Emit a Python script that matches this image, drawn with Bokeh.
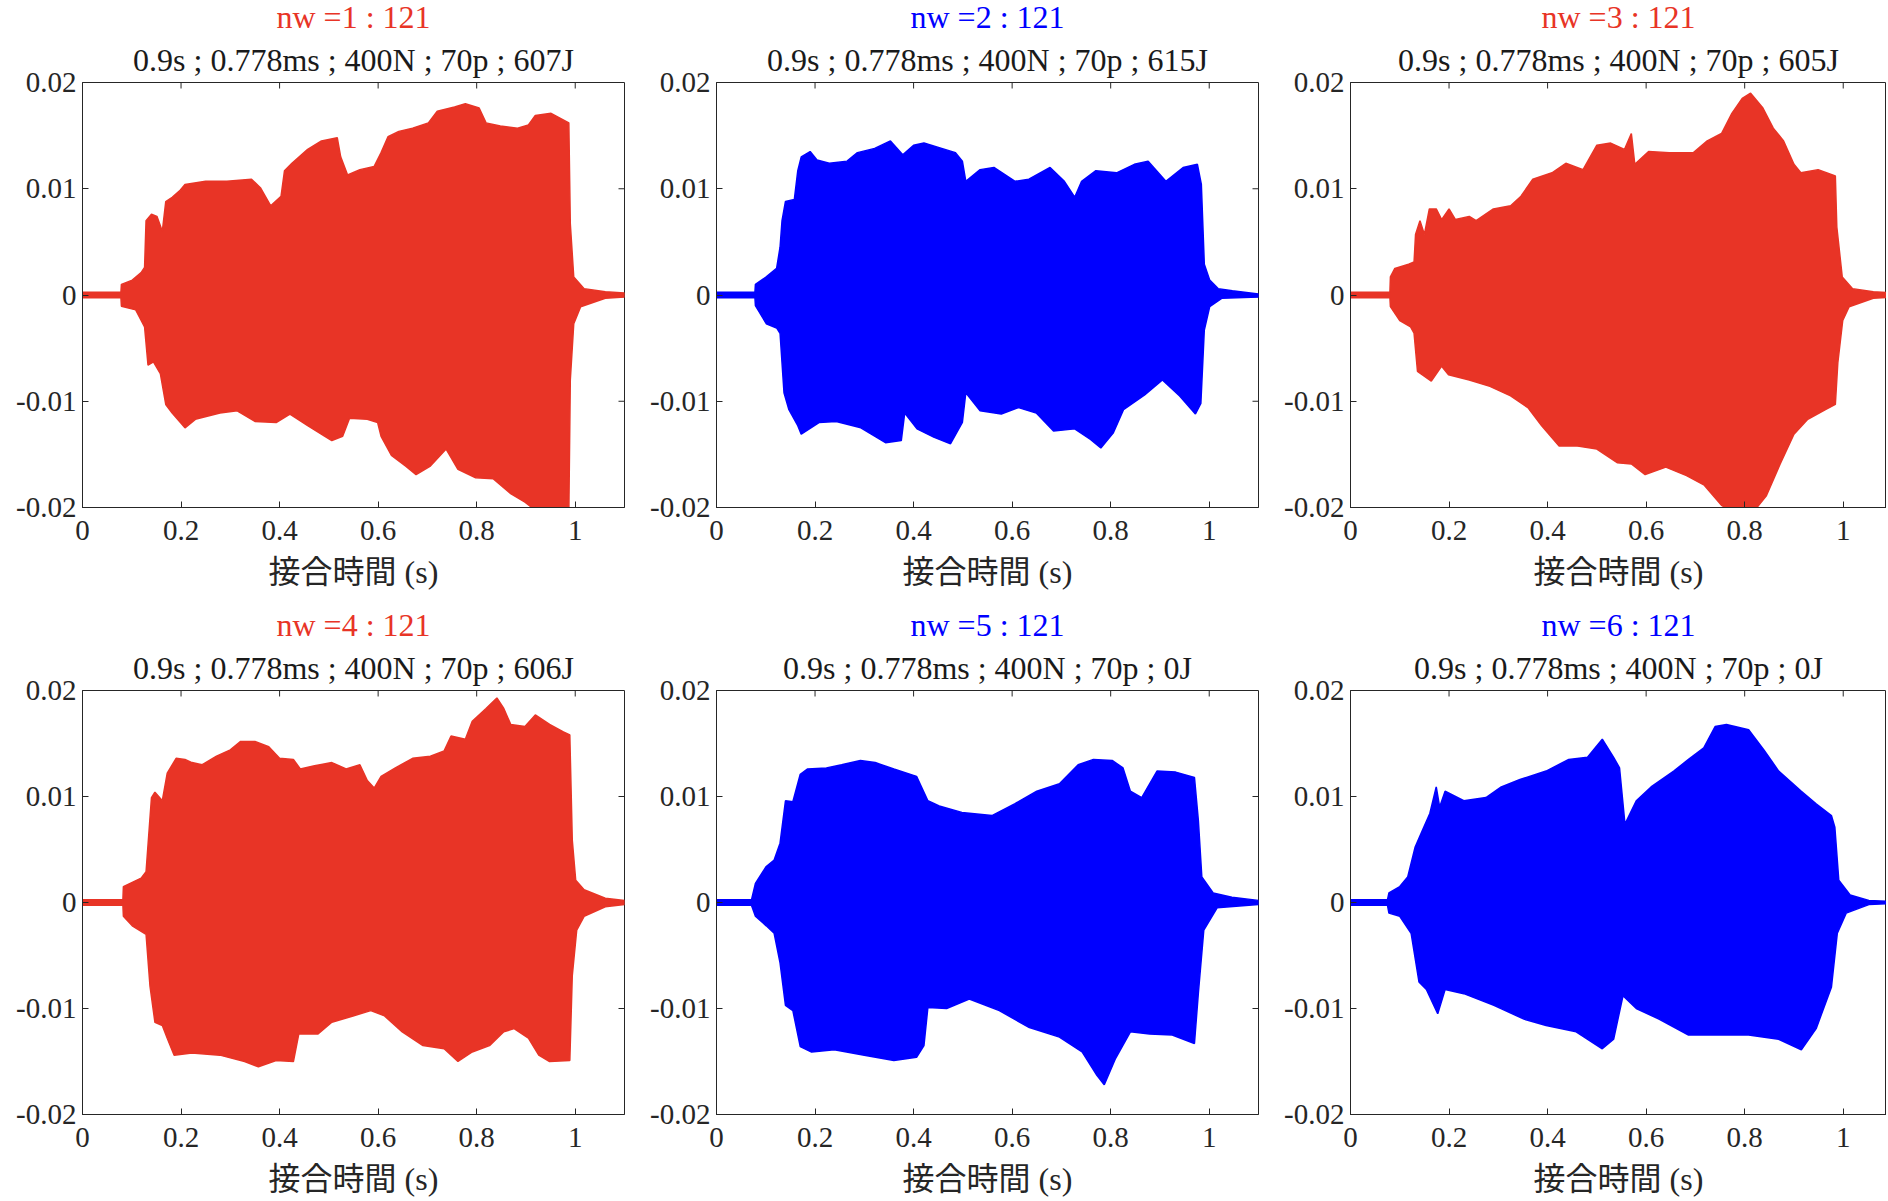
from bokeh.plotting import figure
from bokeh.layouts import column, row
from bokeh.models import FixedTicker, Title, Range1d
from bokeh.embed import file_html
from bokeh.resources import INLINE

# ---------------- data (envelopes) ----------------
X_TICKS = [0, 0.2, 0.4, 0.6, 0.8, 1]
X_LABELS = ["0", "0.2", "0.4", "0.6", "0.8", "1"]
Y_TICKS = [-0.02, -0.01, 0, 0.01, 0.02]
Y_LABELS = ["-0.02", "-0.01", "0", "0.01", "0.02"]
X_LABEL = "接合時間 (s)"

TITLES = ["nw =1 : 121", "nw =2 : 121", "nw =3 : 121",
          "nw =4 : 121", "nw =5 : 121", "nw =6 : 121"]
SUBTITLES = ["0.9s ; 0.778ms ; 400N ; 70p ; 607J",
             "0.9s ; 0.778ms ; 400N ; 70p ; 615J",
             "0.9s ; 0.778ms ; 400N ; 70p ; 605J",
             "0.9s ; 0.778ms ; 400N ; 70p ; 606J",
             "0.9s ; 0.778ms ; 400N ; 70p ; 0J",
             "0.9s ; 0.778ms ; 400N ; 70p ; 0J"]
RED = "#E83426"
BLUE = "#0000FF"
COLORS = [RED, BLUE, RED, RED, BLUE, BLUE]

p1_t_up = [0, 0.078, 0.079, 0.101, 0.119, 0.126, 0.129, 0.14, 0.151, 0.162, 0.169, 0.182, 0.197, 0.208, 0.25, 0.293, 0.343, 0.361, 0.382, 0.403, 0.41, 0.425, 0.457, 0.485, 0.517, 0.524, 0.538, 0.563, 0.592, 0.606, 0.62, 0.642, 0.67, 0.702, 0.72, 0.755, 0.777, 0.805, 0.819, 0.848, 0.883, 0.905, 0.919, 0.951, 0.987, 0.99, 0.997, 1.018, 1.061, 1.1]
p1_up = [0.00025, 0.00025, 0.001, 0.0014, 0.0021, 0.0026, 0.007, 0.0076, 0.0074, 0.006, 0.0088, 0.0092, 0.0098, 0.0104, 0.0107, 0.0107, 0.0109, 0.0101, 0.0084, 0.0093, 0.0117, 0.0124, 0.0137, 0.0145, 0.0148, 0.013, 0.0113, 0.0118, 0.0121, 0.0134, 0.0149, 0.0154, 0.0157, 0.0162, 0.0173, 0.0177, 0.018, 0.0176, 0.0162, 0.0159, 0.0157, 0.016, 0.0169, 0.0171, 0.0162, 0.0067, 0.0017, 0.0006, 0.0003, 0.0002]
p1_t_lo = [0, 0.078, 0.079, 0.108, 0.126, 0.133, 0.144, 0.158, 0.169, 0.182, 0.208, 0.229, 0.279, 0.314, 0.35, 0.393, 0.421, 0.457, 0.492, 0.506, 0.528, 0.542, 0.578, 0.599, 0.606, 0.627, 0.656, 0.677, 0.706, 0.738, 0.762, 0.798, 0.834, 0.869, 0.898, 0.926, 0.962, 0.987, 0.99, 0.997, 1.011, 1.061, 1.1]
p1_lo = [-0.00025, -0.00025, -0.00106, -0.0014, -0.003, -0.0066, -0.0063, -0.0074, -0.0103, -0.0111, -0.0125, -0.0117, -0.0111, -0.0109, -0.0119, -0.012, -0.0112, -0.0123, -0.0133, -0.0137, -0.0133, -0.0116, -0.0117, -0.012, -0.0133, -0.0151, -0.0161, -0.0169, -0.0161, -0.0145, -0.0164, -0.0172, -0.0173, -0.0187, -0.0195, -0.0205, -0.0205, -0.0205, -0.008, -0.0027, -0.0011, -0.0003, -0.0002]

p2_t_up = [0, 0.078, 0.079, 0.101, 0.122, 0.129, 0.133, 0.14, 0.158, 0.165, 0.172, 0.19, 0.204, 0.229, 0.265, 0.286, 0.321, 0.353, 0.378, 0.4, 0.421, 0.457, 0.485, 0.499, 0.506, 0.535, 0.563, 0.606, 0.634, 0.677, 0.706, 0.727, 0.741, 0.77, 0.812, 0.848, 0.876, 0.912, 0.947, 0.976, 0.984, 0.99, 1.001, 1.018, 1.047, 1.1]
p2_up = [0.00025, 0.00025, 0.001, 0.0017, 0.0025, 0.0045, 0.007, 0.0088, 0.009, 0.0117, 0.013, 0.0135, 0.0127, 0.0124, 0.0126, 0.0134, 0.0138, 0.0145, 0.0132, 0.0141, 0.0143, 0.0138, 0.0134, 0.0126, 0.0107, 0.0118, 0.012, 0.0107, 0.0109, 0.012, 0.0107, 0.0092, 0.0107, 0.0117, 0.0115, 0.0123, 0.0126, 0.0107, 0.012, 0.0123, 0.0104, 0.0029, 0.0014, 0.0006, 0.0004, 0.0001]
p2_t_lo = [0, 0.078, 0.079, 0.101, 0.122, 0.129, 0.137, 0.147, 0.165, 0.172, 0.208, 0.243, 0.293, 0.343, 0.375, 0.382, 0.407, 0.442, 0.475, 0.499, 0.506, 0.535, 0.578, 0.613, 0.649, 0.684, 0.727, 0.759, 0.78, 0.805, 0.826, 0.869, 0.905, 0.94, 0.972, 0.983, 0.99, 1.001, 1.026, 1.1]
p2_lo = [-0.00025, -0.00025, -0.001, -0.0027, -0.0031, -0.0036, -0.0092, -0.0108, -0.0123, -0.0131, -0.012, -0.0119, -0.0125, -0.0139, -0.0137, -0.0111, -0.0126, -0.0134, -0.014, -0.012, -0.0092, -0.0109, -0.0112, -0.0106, -0.0111, -0.0128, -0.0126, -0.0136, -0.0144, -0.013, -0.0108, -0.0094, -0.008, -0.0095, -0.0112, -0.0102, -0.0033, -0.0011, -0.0003, -0.0002]

p3_t_up = [0, 0.08, 0.081, 0.09, 0.118, 0.129, 0.132, 0.141, 0.15, 0.16, 0.174, 0.185, 0.2, 0.213, 0.241, 0.255, 0.29, 0.325, 0.346, 0.37, 0.409, 0.437, 0.472, 0.5, 0.528, 0.556, 0.57, 0.577, 0.605, 0.647, 0.696, 0.724, 0.753, 0.774, 0.795, 0.812, 0.837, 0.858, 0.879, 0.9, 0.914, 0.949, 0.984, 0.987, 0.998, 1.019, 1.061, 1.1]
p3_up = [0.00025, 0.00025, 0.0017, 0.0025, 0.0029, 0.0031, 0.0057, 0.007, 0.0057, 0.0081, 0.0081, 0.0071, 0.0081, 0.0071, 0.0074, 0.007, 0.0081, 0.0084, 0.0093, 0.0109, 0.0115, 0.0124, 0.0118, 0.0141, 0.0143, 0.0137, 0.0152, 0.0123, 0.0135, 0.0134, 0.0134, 0.0145, 0.0152, 0.0171, 0.0185, 0.019, 0.0176, 0.0157, 0.0145, 0.0123, 0.0115, 0.0118, 0.0112, 0.0064, 0.0017, 0.0006, 0.0003, 0.0002]
p3_t_lo = [0, 0.08, 0.081, 0.1, 0.122, 0.129, 0.136, 0.164, 0.185, 0.199, 0.241, 0.283, 0.325, 0.36, 0.388, 0.423, 0.458, 0.5, 0.542, 0.57, 0.598, 0.64, 0.682, 0.718, 0.753, 0.781, 0.816, 0.844, 0.872, 0.9, 0.928, 0.963, 0.984, 0.989, 0.999, 1.012, 1.061, 1.1]
p3_lo = [-0.00025, -0.00025, -0.0011, -0.0024, -0.003, -0.0036, -0.0072, -0.0081, -0.0067, -0.0075, -0.008, -0.0086, -0.0095, -0.0106, -0.0123, -0.0142, -0.0142, -0.0145, -0.0158, -0.0159, -0.0169, -0.0162, -0.017, -0.0179, -0.0198, -0.0205, -0.0205, -0.0189, -0.0159, -0.0131, -0.0117, -0.0108, -0.0103, -0.0064, -0.0024, -0.0011, -0.0003, -0.0002]

p4_t_up = [0, 0.082, 0.083, 0.119, 0.129, 0.14, 0.147, 0.162, 0.172, 0.19, 0.208, 0.222, 0.243, 0.272, 0.3, 0.321, 0.35, 0.378, 0.4, 0.428, 0.442, 0.471, 0.506, 0.535, 0.563, 0.578, 0.592, 0.606, 0.635, 0.67, 0.706, 0.734, 0.748, 0.777, 0.791, 0.819, 0.841, 0.855, 0.869, 0.898, 0.919, 0.948, 0.976, 0.989, 0.994, 1.001, 1.018, 1.061, 1.1]
p4_up = [0.00025, 0.00025, 0.0015, 0.0023, 0.0029, 0.0099, 0.0104, 0.0096, 0.0122, 0.0136, 0.0135, 0.0132, 0.013, 0.0138, 0.0144, 0.0152, 0.0152, 0.0147, 0.0136, 0.0135, 0.0126, 0.0129, 0.0132, 0.0126, 0.013, 0.0115, 0.0108, 0.0119, 0.0127, 0.0136, 0.0138, 0.0143, 0.0157, 0.0154, 0.0171, 0.0183, 0.0193, 0.0183, 0.0168, 0.0166, 0.0177, 0.0168, 0.0161, 0.0158, 0.0059, 0.0021, 0.0012, 0.0004, 0.0002]
p4_t_lo = [0, 0.082, 0.083, 0.101, 0.129, 0.137, 0.147, 0.162, 0.172, 0.186, 0.222, 0.279, 0.329, 0.357, 0.393, 0.428, 0.439, 0.478, 0.506, 0.549, 0.585, 0.613, 0.649, 0.691, 0.734, 0.762, 0.791, 0.826, 0.855, 0.876, 0.905, 0.926, 0.948, 0.989, 0.994, 1.003, 1.018, 1.061, 1.1]
p4_lo = [-0.00025, -0.00025, -0.0013, -0.0022, -0.003, -0.0079, -0.0113, -0.0116, -0.0128, -0.0144, -0.0142, -0.0144, -0.015, -0.0155, -0.0149, -0.015, -0.0124, -0.0124, -0.0113, -0.0107, -0.0102, -0.0107, -0.0122, -0.0135, -0.0138, -0.015, -0.0141, -0.0135, -0.0122, -0.0119, -0.0128, -0.0144, -0.015, -0.0149, -0.0069, -0.0026, -0.0013, -0.0004, -0.0002]

p5_t_up = [0, 0.071, 0.079, 0.101, 0.117, 0.129, 0.14, 0.155, 0.17, 0.185, 0.223, 0.254, 0.292, 0.322, 0.36, 0.406, 0.429, 0.452, 0.498, 0.559, 0.605, 0.65, 0.696, 0.734, 0.765, 0.803, 0.825, 0.84, 0.863, 0.894, 0.932, 0.97, 0.978, 0.985, 1.008, 1.046, 1.1]
p5_up = [0.00025, 0.00025, 0.0018, 0.0034, 0.004, 0.0056, 0.0096, 0.0095, 0.0121, 0.0126, 0.0127, 0.013, 0.0134, 0.0132, 0.0126, 0.0119, 0.0096, 0.0091, 0.0085, 0.0082, 0.0093, 0.0105, 0.0112, 0.013, 0.0135, 0.0134, 0.0127, 0.0105, 0.0099, 0.0124, 0.0123, 0.0118, 0.0077, 0.0024, 0.0009, 0.0005, 0.0002]
p5_t_lo = [0, 0.071, 0.079, 0.101, 0.117, 0.129, 0.14, 0.155, 0.17, 0.193, 0.239, 0.3, 0.36, 0.406, 0.421, 0.429, 0.467, 0.513, 0.574, 0.635, 0.696, 0.742, 0.772, 0.787, 0.81, 0.84, 0.879, 0.925, 0.97, 0.978, 0.989, 1.016, 1.1]
p5_lo = [-0.00025, -0.00025, -0.0013, -0.0022, -0.0029, -0.0057, -0.0097, -0.0102, -0.0136, -0.0141, -0.0139, -0.0144, -0.0149, -0.0146, -0.0135, -0.0099, -0.01, -0.0091, -0.0102, -0.0118, -0.0127, -0.0141, -0.0163, -0.0172, -0.0147, -0.0122, -0.0124, -0.0125, -0.0133, -0.0085, -0.0026, -0.0005, -0.0002]

p6_t_up = [0, 0.075, 0.078, 0.1, 0.116, 0.131, 0.146, 0.161, 0.174, 0.181, 0.192, 0.23, 0.275, 0.306, 0.344, 0.397, 0.443, 0.481, 0.511, 0.534, 0.546, 0.557, 0.58, 0.61, 0.656, 0.686, 0.717, 0.74, 0.763, 0.808, 0.839, 0.869, 0.915, 0.945, 0.976, 0.983, 0.991, 1.014, 1.052, 1.1]
p6_up = [0.00025, 0.00025, 0.0009, 0.0015, 0.0024, 0.0052, 0.0068, 0.0084, 0.0109, 0.009, 0.0105, 0.0096, 0.0099, 0.0109, 0.0116, 0.0124, 0.0135, 0.0137, 0.0154, 0.0137, 0.0127, 0.0074, 0.0096, 0.0109, 0.0124, 0.0135, 0.0146, 0.0166, 0.0168, 0.0163, 0.0144, 0.0124, 0.0105, 0.0093, 0.0082, 0.0071, 0.0021, 0.0007, 0.0002, 0.0001]
p6_t_lo = [0, 0.075, 0.078, 0.1, 0.123, 0.139, 0.154, 0.177, 0.192, 0.23, 0.291, 0.352, 0.397, 0.458, 0.511, 0.534, 0.553, 0.58, 0.626, 0.686, 0.747, 0.808, 0.869, 0.915, 0.945, 0.976, 0.988, 1.006, 1.052, 1.1]
p6_lo = [-0.00025, -0.00025, -0.001, -0.0013, -0.0029, -0.0075, -0.0082, -0.0105, -0.0082, -0.0086, -0.0097, -0.011, -0.0116, -0.0122, -0.0138, -0.0129, -0.0088, -0.01, -0.011, -0.0125, -0.0125, -0.0125, -0.0129, -0.0139, -0.0119, -0.008, -0.0029, -0.001, -0.0002, -0.0001]

PANELS = [
    (p1_t_up, p1_up, p1_t_lo, p1_lo),
    (p2_t_up, p2_up, p2_t_lo, p2_lo),
    (p3_t_up, p3_up, p3_t_lo, p3_lo),
    (p4_t_up, p4_up, p4_t_lo, p4_lo),
    (p5_t_up, p5_up, p5_t_lo, p5_lo),
    (p6_t_up, p6_up, p6_t_lo, p6_lo),
]

# ---------------- styling / layout ----------------
AX = "#262626"
SERIF = "Liberation Serif"
MIXED = "'Liberation Serif', 'Noto Sans CJK JP'"
TICK_FS = "29px"
TITLE_FS = "32px"
LABEL_FS = "32px"

FRAME_W = 542
FRAME_H = 425
B_LEFT = 82
B_TOP = 88
SHIFT_UP = 6          # whole layout lifted so the frames sit at the reference spot
ROW_H = [608, 597]
COL_W = [634, 634, 618]
TICK_LEN = 6   # px, inward ticks


def style_axis(ax, ticks, labels):
    ax.ticker = FixedTicker(ticks=ticks, minor_ticks=[])
    ax.axis_line_color = AX
    ax.axis_line_width = 1
    ax.major_tick_line_color = AX
    ax.major_tick_line_width = 1
    ax.major_tick_in = TICK_LEN
    ax.major_tick_out = 0
    ax.minor_tick_line_color = None
    ax.major_label_overrides = dict(zip(ticks, labels))
    ax.major_label_text_font = SERIF
    ax.major_label_text_font_size = TICK_FS
    ax.major_label_text_color = AX


def make_panel(i, width, height):
    t_up, up, t_lo, lo = PANELS[i]
    b_right = 10 if width >= 634 else 0
    frame_w = width - B_LEFT - b_right
    xmax = 1.1 * frame_w / FRAME_W
    p = figure(width=width, height=height,
               x_range=Range1d(0, xmax), y_range=Range1d(-0.02, 0.02),
               min_border_left=B_LEFT, min_border_right=b_right,
               min_border_top=B_TOP, min_border_bottom=height - B_TOP - FRAME_H,
               output_backend="svg", toolbar_location=None,
               background_fill_color="white", border_fill_color="white")
    p.outline_line_color = AX
    p.outline_line_width = 1
    p.grid.visible = False

    xa = p.xaxis[0]
    style_axis(xa, X_TICKS, X_LABELS)
    xa.major_label_standoff = 13
    xa.axis_label = X_LABEL
    xa.axis_label_text_font = MIXED
    xa.axis_label_text_font_size = LABEL_FS
    xa.axis_label_text_font_style = "normal"
    xa.axis_label_text_color = AX
    xa.axis_label_standoff = 11

    ya = p.yaxis[0]
    style_axis(ya, Y_TICKS, Y_LABELS)
    ya.major_label_standoff = 6

    # box ticks on the top and right edges (inward, like the left/bottom ones)
    dy = TICK_LEN * 0.04 / FRAME_H
    tx = [t for t in X_TICKS if 0 < t < xmax]
    p.segment(x0=tx, y0=[0.02] * len(tx), x1=tx, y1=[0.02 - dy] * len(tx),
              line_color=AX, line_width=1)
    if b_right > 0:
        dx = TICK_LEN * xmax / frame_w
        ty = [v for v in Y_TICKS if -0.02 < v < 0.02]
        p.segment(x0=[xmax] * len(ty), y0=ty, x1=[xmax - dx] * len(ty), y1=ty,
                  line_color=AX, line_width=1)

    p.title.text = TITLES[i]
    p.title.text_color = COLORS[i]
    p.title.text_font = SERIF
    p.title.text_font_size = TITLE_FS
    p.title.text_font_style = "normal"
    p.title.align = "center"
    p.title.standoff = 0

    sub = Title(text=SUBTITLES[i], text_color="#1a1a1a", text_font=SERIF,
                text_font_size=TITLE_FS, text_font_style="normal",
                align="center", standoff=10)
    p.add_layout(sub, "above")

    xs = list(t_up) + list(t_lo)[::-1]
    ys = list(up) + list(lo)[::-1]
    c = COLORS[i]
    p.patch(xs, ys, fill_color=c, line_color=c, line_width=1.5)
    return p


figs = []
for r in range(2):
    figs.append(row(*[make_panel(3 * r + c, COL_W[c], ROW_H[r]) for c in range(3)]))
layout = column(*figs, styles={"margin-top": f"-{SHIFT_UP}px"})

open("out.html", "w").write(file_html(layout, INLINE))
